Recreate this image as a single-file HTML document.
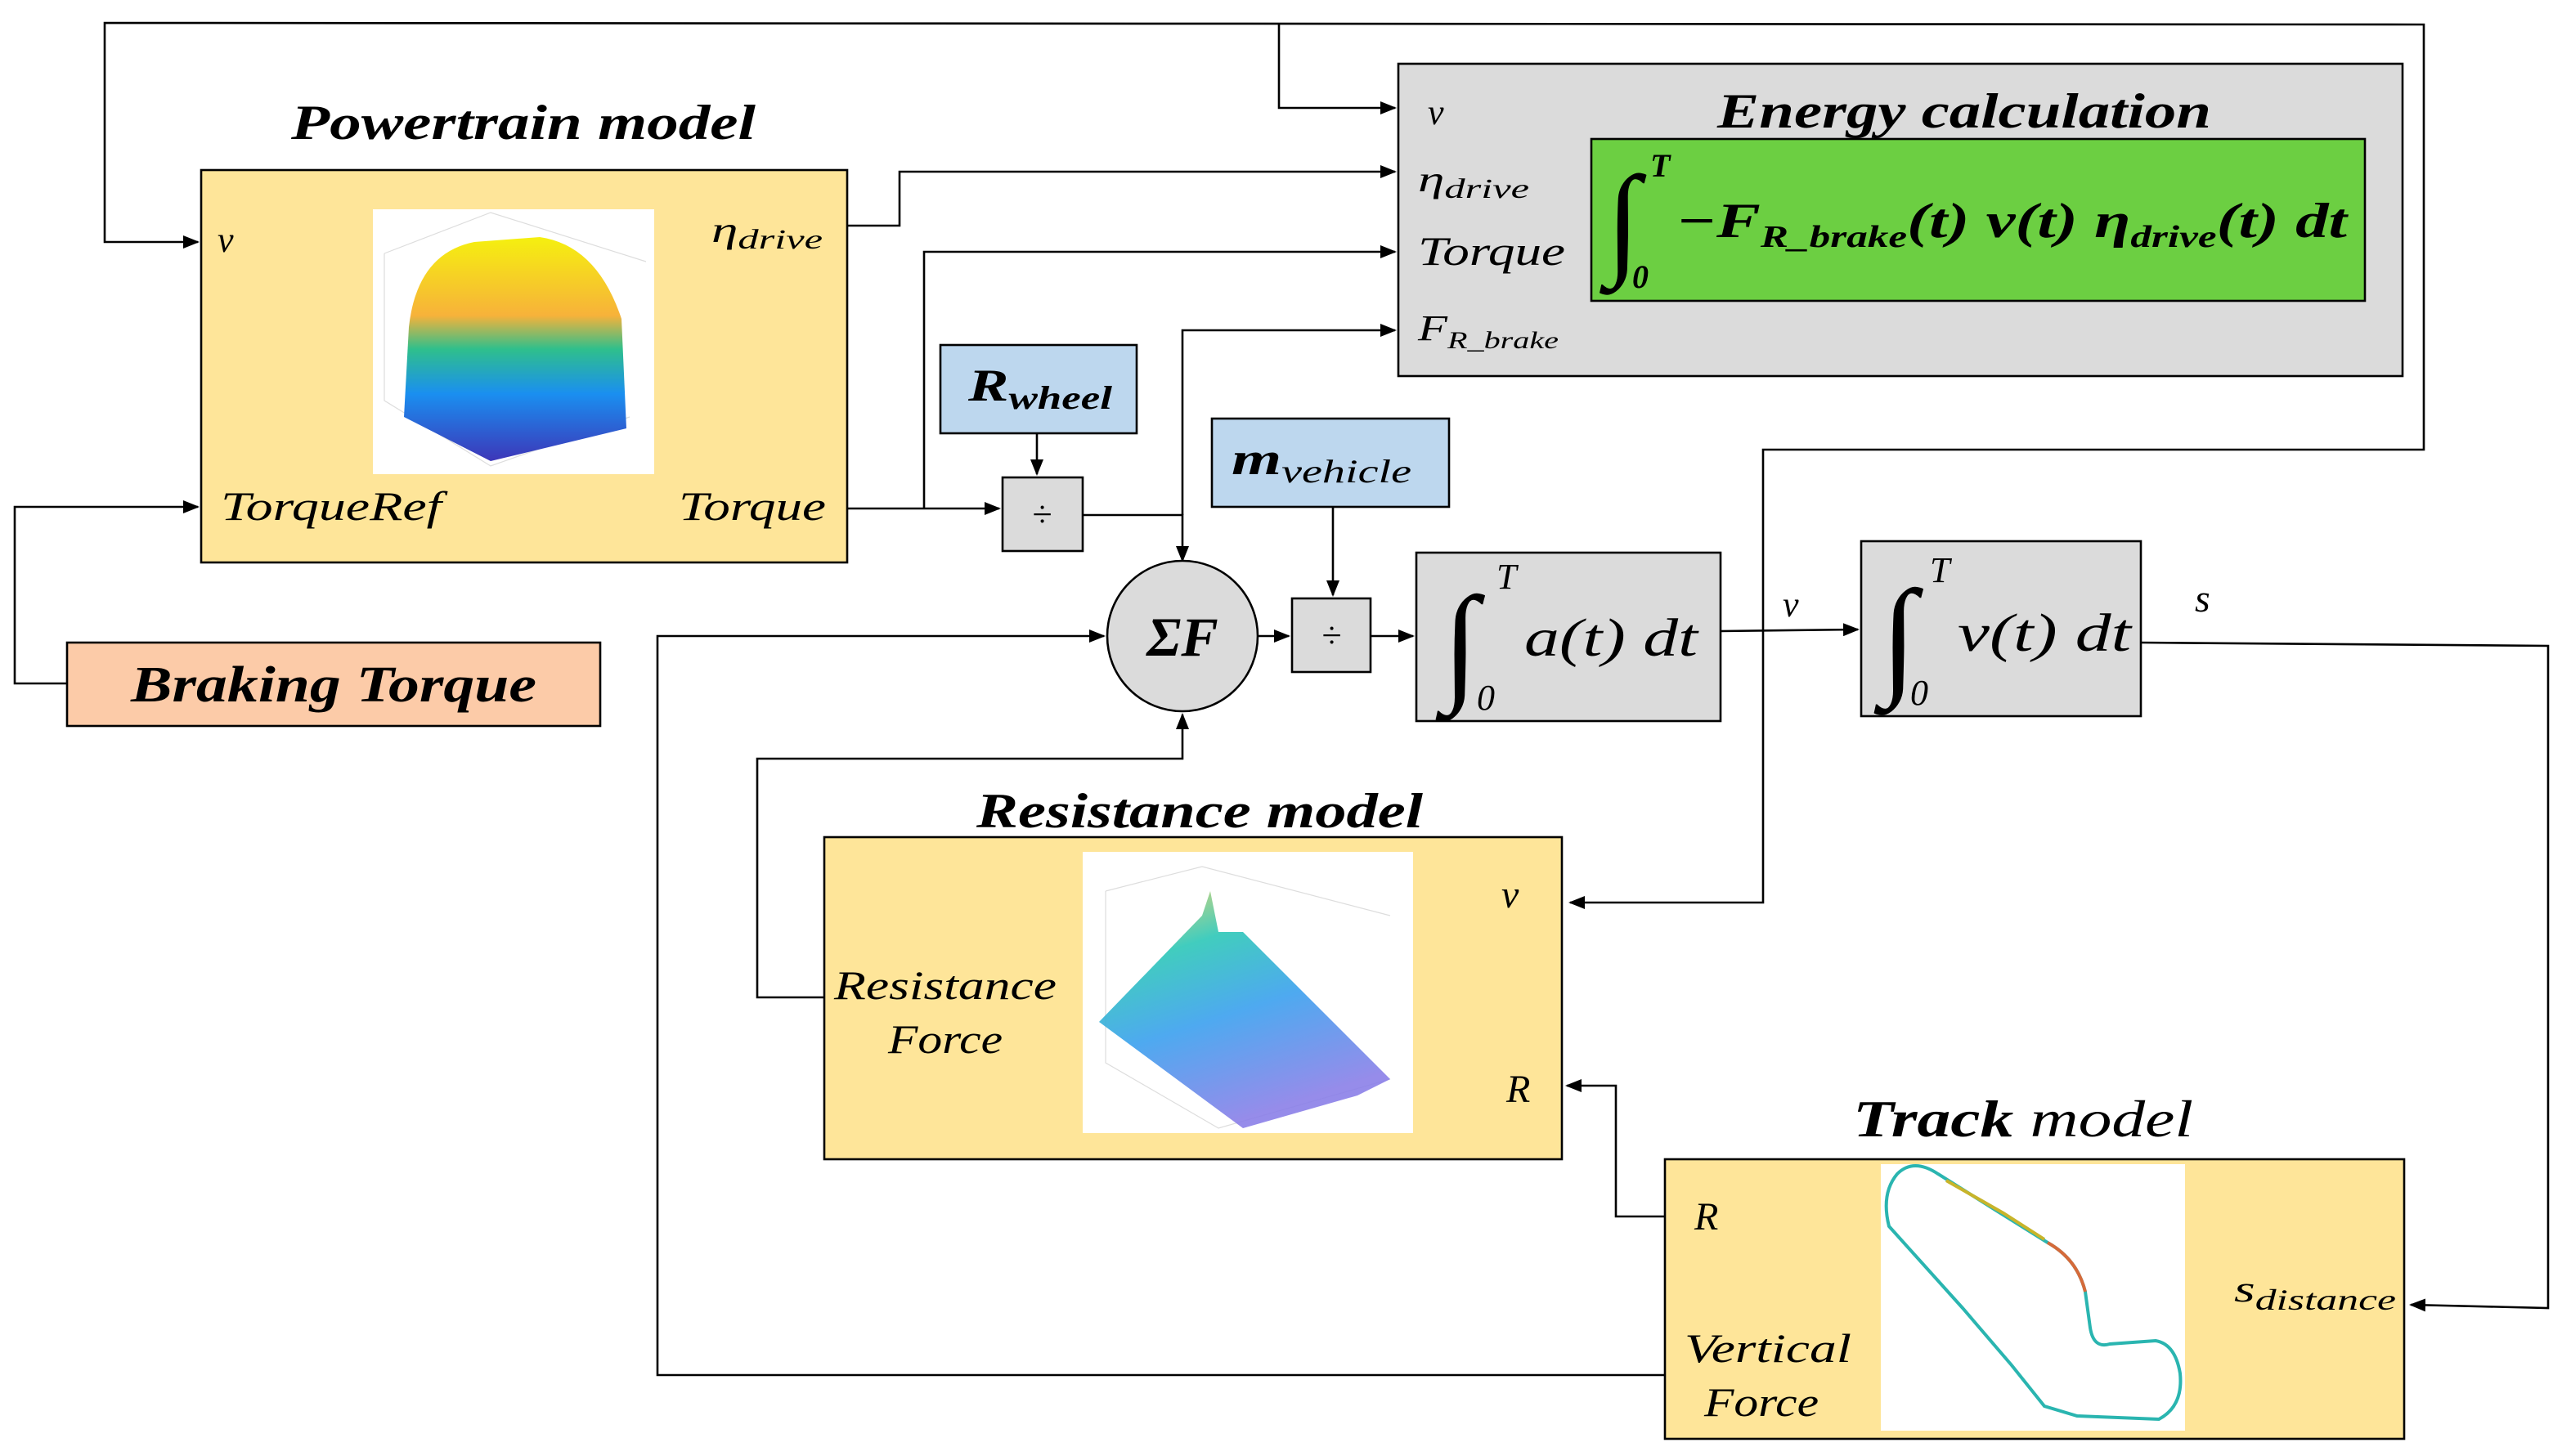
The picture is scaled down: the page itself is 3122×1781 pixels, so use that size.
<!DOCTYPE html>
<html><head><meta charset="utf-8"><style>
html,body{margin:0;padding:0;background:#fff}
svg{display:block}
text{font-family:"Liberation Serif",serif;font-style:italic;fill:#000}
.b{font-weight:bold}
</style></head><body>
<svg width="3122" height="1781" viewBox="0 0 1561 890.5" xmlns="http://www.w3.org/2000/svg">
<defs>
<marker id="a" markerWidth="10" markerHeight="8" refX="9" refY="4" orient="auto" markerUnits="userSpaceOnUse"><path d="M0,0 L10,4 L0,8 z" fill="#000"/></marker>
<linearGradient id="pg" x1="0" y1="0" x2="0" y2="1"><stop offset="0" stop-color="#f5f00f"/><stop offset=".35" stop-color="#f7b23a"/><stop offset=".5" stop-color="#2fbf8c"/><stop offset=".7" stop-color="#1a8ff0"/><stop offset="1" stop-color="#3d36b8"/></linearGradient>
<linearGradient id="rg" x1="0" y1="0" x2="0.4" y2="1"><stop offset="0" stop-color="#f5d35a"/><stop offset=".3" stop-color="#2cc7b7"/><stop offset=".6" stop-color="#3aa0ee"/><stop offset="1" stop-color="#8a7fe8"/></linearGradient>
</defs>
<g fill="none" stroke="#000" stroke-width="1.3">
<polyline points="1078,386 1078,275 1482,275 1482,15 64,14 64,148 121,148" marker-end="url(#a)"/>
<polyline points="782,15 782,66 853,66" marker-end="url(#a)"/>
<polyline points="1078,386 1078,552 960,552" marker-end="url(#a)"/>
<polyline points="41,418 9,418 9,310 121,310" marker-end="url(#a)"/>
<polyline points="518,138 550,138 550,105 853,105" marker-end="url(#a)"/>
<polyline points="518,311 611,311" marker-end="url(#a)"/>
<polyline points="565,311 565,154 853,154" marker-end="url(#a)"/>
<polyline points="634,265 634,290" marker-end="url(#a)"/>
<polyline points="662,315 723,315 723,343" marker-end="url(#a)"/>
<polyline points="723,315 723,202 853,202" marker-end="url(#a)"/>
<polyline points="815,310 815,364" marker-end="url(#a)"/>
<polyline points="769,389 788,389" marker-end="url(#a)"/>
<polyline points="838,389 864,389" marker-end="url(#a)"/>
<polyline points="1052,386 1136,385" marker-end="url(#a)"/>
<polyline points="1309,393 1558,395 1558,800 1474,798" marker-end="url(#a)"/>
<polyline points="504,610 463,610 463,464 723,464 723,437" marker-end="url(#a)"/>
<polyline points="1018,744 988,744 988,664 958,664" marker-end="url(#a)"/>
<polyline points="1018,841 402,841 402,389 675,389" marker-end="url(#a)"/>
</g>
<!-- Powertrain -->
<text x="178" y="85" class="b" font-size="30" textLength="284" lengthAdjust="spacingAndGlyphs">Powertrain model</text>
<rect x="123" y="104" width="395" height="240" fill="#FEE599" stroke="#000" stroke-width="1.3"/>
<rect x="228" y="128" width="172" height="162" fill="#fff"/>
<g stroke="#ddd" stroke-width=".6" fill="none"><path d="M235,155 L235,245 L300,285 L385,255"/><path d="M235,155 L300,130 L395,160"/></g>
<path d="M250,200 Q255,155 290,148 L330,145 Q365,150 380,195 L383,262 L300,282 L247,255 Z" fill="url(#pg)"/>
<text x="133" y="154" font-size="22">v</text>
<text x="435" y="148" font-size="22" textLength="68" lengthAdjust="spacingAndGlyphs">η<tspan font-size="17" dy="4">drive</tspan></text>
<text x="135" y="318" font-size="25" textLength="135" lengthAdjust="spacingAndGlyphs">TorqueRef</text>
<text x="415" y="318" font-size="25" textLength="90" lengthAdjust="spacingAndGlyphs">Torque</text>
<rect x="41" y="393" width="326" height="51" fill="#FCCBA8" stroke="#000" stroke-width="1.3"/>
<text x="80" y="429" class="b" font-size="31" textLength="248" lengthAdjust="spacingAndGlyphs">Braking Torque</text>
<!-- Energy -->
<rect x="855" y="39" width="614" height="191" fill="#DBDBDB" stroke="#000" stroke-width="1.3"/>
<text x="1050" y="78" class="b" font-size="30" textLength="302" lengthAdjust="spacingAndGlyphs">Energy calculation</text>
<rect x="973" y="85" width="473" height="99" fill="#6CCF42" stroke="#000" stroke-width="1.3"/>
<text x="982" y="160" font-size="76" font-style="normal">∫</text>
<text x="1009" y="108" font-size="20" class="b">T</text>
<text x="998" y="176" font-size="20" class="b" font-style="normal">0</text>
<text x="1025" y="145" font-size="30" class="b" textLength="410" lengthAdjust="spacingAndGlyphs">−F<tspan font-size="19" dy="6">R_brake</tspan><tspan dy="-6" font-size="30">(t) v(t) η</tspan><tspan font-size="19" dy="6">drive</tspan><tspan dy="-6" font-size="30">(t) dt</tspan></text>
<text x="873" y="76" font-size="22">v</text>
<text x="867" y="117" font-size="22" textLength="68" lengthAdjust="spacingAndGlyphs">η<tspan font-size="17" dy="4">drive</tspan></text>
<text x="867" y="162" font-size="25" textLength="90" lengthAdjust="spacingAndGlyphs">Torque</text>
<text x="867" y="208" font-size="22" textLength="86" lengthAdjust="spacingAndGlyphs">F<tspan font-size="15" dy="5">R_brake</tspan></text>
<!-- small blocks -->
<rect x="575" y="211" width="120" height="54" fill="#BDD7EE" stroke="#000" stroke-width="1.3"/>
<text x="592" y="245" font-size="28" class="b" textLength="88" lengthAdjust="spacingAndGlyphs">R<tspan font-size="20" dy="5">wheel</tspan></text>
<rect x="741" y="256" width="145" height="54" fill="#BDD7EE" stroke="#000" stroke-width="1.3"/>
<text x="753" y="290" font-size="28" class="b" textLength="110" lengthAdjust="spacingAndGlyphs">m<tspan font-size="20" dy="5" font-weight="normal">vehicle</tspan></text>
<rect x="613" y="292" width="49" height="45" fill="#DBDBDB" stroke="#000" stroke-width="1.3"/>
<text x="637" y="322" text-anchor="middle" font-size="22" font-style="normal">÷</text>
<rect x="790" y="366" width="48" height="45" fill="#DBDBDB" stroke="#000" stroke-width="1.3"/>
<text x="814" y="396" text-anchor="middle" font-size="22" font-style="normal">÷</text>
<circle cx="723" cy="389" r="46" fill="#DBDBDB" stroke="#000" stroke-width="1.3"/>
<text x="723" y="401" text-anchor="middle" class="b" font-size="34">ΣF</text>
<rect x="866" y="338" width="186" height="103" fill="#DBDBDB" stroke="#000" stroke-width="1.3"/>
<text x="882" y="420" font-size="80" font-style="normal">∫</text>
<text x="915" y="360" font-size="22">T</text>
<text x="903" y="434" font-size="22" font-style="normal">0</text>
<text x="932" y="401" font-size="33" textLength="106" lengthAdjust="spacingAndGlyphs">a(t) dt</text>
<rect x="1138" y="331" width="171" height="107" fill="#DBDBDB" stroke="#000" stroke-width="1.3"/>
<text x="1150" y="416" font-size="80" font-style="normal">∫</text>
<text x="1180" y="356" font-size="22">T</text>
<text x="1168" y="431" font-size="22" font-style="normal">0</text>
<text x="1197" y="398" font-size="33" textLength="106" lengthAdjust="spacingAndGlyphs">v(t) dt</text>
<text x="1090" y="377" font-size="22">v</text>
<text x="1342" y="374" font-size="24">s</text>
<!-- Resistance -->
<text x="597" y="506" class="b" font-size="30" textLength="273" lengthAdjust="spacingAndGlyphs">Resistance model</text>
<rect x="504" y="512" width="451" height="197" fill="#FEE599" stroke="#000" stroke-width="1.3"/>
<rect x="662" y="521" width="202" height="172" fill="#fff"/>
<g stroke="#ddd" stroke-width=".6" fill="none"><path d="M676,545 L676,650 L745,690 L850,660"/><path d="M676,545 L735,530 L850,560"/></g>
<path d="M672,625 L735,560 L740,545 L745,570 L760,570 L850,660 L830,670 L760,690 Z" fill="url(#rg)" opacity=".9"/>
<text x="918" y="555" font-size="24">v</text>
<text x="921" y="674" font-size="24">R</text>
<text x="510" y="611" font-size="25" textLength="136" lengthAdjust="spacingAndGlyphs">Resistance</text>
<text x="543" y="644" font-size="25" textLength="70" lengthAdjust="spacingAndGlyphs">Force</text>
<!-- Track -->
<text x="1133" y="695" font-size="32" textLength="208" lengthAdjust="spacingAndGlyphs"><tspan class="b">Track</tspan> model</text>
<rect x="1018" y="709" width="452" height="171" fill="#FEE599" stroke="#000" stroke-width="1.3"/>
<rect x="1150" y="712" width="186" height="163" fill="#fff"/>
<path d="M1160,718 Q1150,730 1155,750 L1200,800 L1230,835 L1250,860 L1270,866 L1320,868 Q1335,860 1333,840 Q1330,822 1318,820 L1290,822 Q1280,825 1278,812 L1275,790 Q1270,770 1252,760 L1220,740 L1185,718 Q1170,708 1160,718 Z" fill="none" stroke="#2ab5b0" stroke-width="2"/>
<path d="M1190,722 L1225,742 L1250,758" fill="none" stroke="#c8b42a" stroke-width="2"/>
<path d="M1252,760 Q1270,770 1275,790" fill="none" stroke="#d56a3a" stroke-width="2"/>
<text x="1036" y="752" font-size="24">R</text>
<text x="1030" y="833" font-size="25" textLength="102" lengthAdjust="spacingAndGlyphs">Vertical</text>
<text x="1042" y="866" font-size="25" textLength="70" lengthAdjust="spacingAndGlyphs">Force</text>
<text x="1366" y="796" font-size="23" textLength="99" lengthAdjust="spacingAndGlyphs">s<tspan font-size="18" dy="5">distance</tspan></text>
</svg>
</body></html>
